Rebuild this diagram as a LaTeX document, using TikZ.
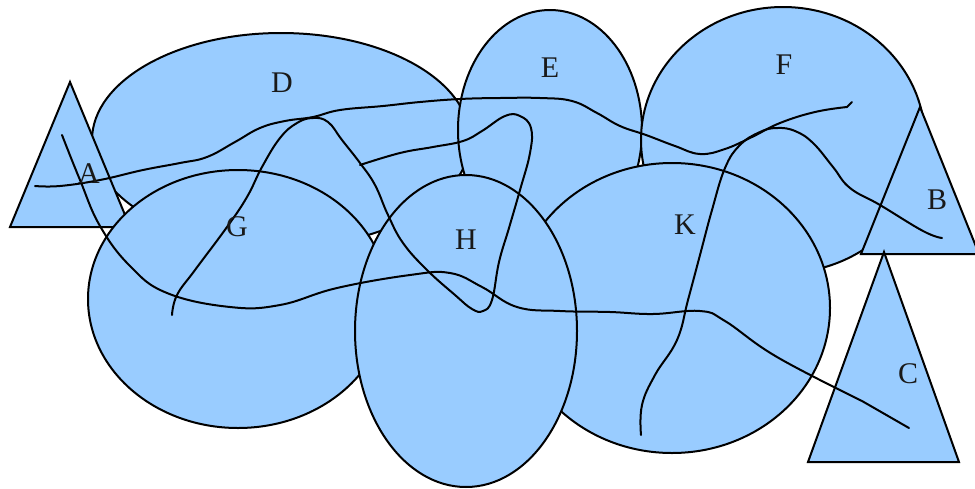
\documentclass[tikz,border=0pt]{standalone}
\usepackage{fontspec}
\setmainfont{Liberation Serif}
\definecolor{setblue}{HTML}{99CCFF}
\tikzset{
  region/.style={fill=setblue, draw=black, line width=2pt},
  tri/.style={region, line join=miter},
  path line/.style={draw=black, line width=2pt, line cap=round, line join=round},
  lbl/.style={font=\fontsize{30}{30}\selectfont, inner sep=0pt, text=black!90}
}
\begin{document}
\begin{tikzpicture}[x=1pt, y=-1pt]
  \useasboundingbox (0,0) rectangle (975,488);

  % regions, back to front
  \path[region] (281,140) ellipse [x radius=189pt, y radius=107pt];   % D
  \path[region] (550,130) ellipse [x radius=92pt, y radius=120pt];    % E
  \path[region] (783,140) ellipse [x radius=142pt, y radius=133pt];   % F
  \path[tri] (70,82) -- (10,227) -- (130,227) -- cycle;                % A
  \path[tri] (920,107) -- (861,254) -- (979,254) -- cycle;             % B
  \path[tri] (884,252) -- (808,462) -- (959,462) -- cycle;             % C
  \path[region] (238,299) ellipse [x radius=150pt, y radius=129pt];   % G
  \path[region] (672,308) ellipse [x radius=158pt, y radius=145pt];   % K
  \path[region] (466,331) ellipse [x radius=111pt, y radius=156pt];   % H

  % free-hand paths
  \draw[path line] plot[smooth, tension=0.7] coordinates {
    (35,186) (60,186) (100,180) (143,170) (180,163) (207,157) (235,142)
    (260,128) (285,121) (313,117) (340,110) (383,106) (420,102) (460,99)
    (500,98) (540,98) (572,101) (597,113) (620,126) (646,135) (675,146)
    (700,154) (725,149) (752,137) (780,123) (815,112) (847,107)} -- (852,102);

  \draw[path line] plot[smooth, tension=0.7] coordinates {
    (62,135) (80,180) (100,226) (130,266) (167,293) (230,307) (280,305)
    (337,288) (410,275) (450,273) (482,287) (517,307) (560,311) (610,312)
    (653,314) (700,311) (725,321) (777,357) (862,401)} -- (909,428);

  \draw[path line] plot[smooth, tension=0.7] coordinates {
    (172,315) (177,295) (195,270) (227,227) (247,197) (262,167) (280,138)
    (297,123) (313,118) (328,122) (342,140) (360,163) (375,185) (388,215)
    (403,243) (427,270) (455,295) (472,309) (483,311) (492,300) (499,262)
    (509,228) (520,190) (530,153) (531,128) (520,116) (505,116) (482,131)
    (463,141) (433,147) (400,153) (360,165)};

  \draw[path line] plot[smooth, tension=0.7] coordinates {
    (641,435) (642,405) (655,375) (677,340) (688,300) (700,255) (712,210)
    (725,168) (740,145) (760,132) (777,128) (795,131) (813,143) (833,167)
    (850,188) (880,205) (923,231) (942,238)};

  % labels
  \node[lbl] (labA) at (89,174) {A};
  \node[lbl] (labB) at (937,200) {B};
  \node[lbl] (labC) at (908,374) {C};
  \node[lbl] (labD) at (282,83) {D};
  \node[lbl] (labE) at (550,68) {E};
  \node[lbl] (labF) at (784,65) {F};
  \node[lbl] (labG) at (237,227) {G};
  \node[lbl] (labH) at (466,240) {H};
  \node[lbl] (labK) at (685,225) {K};
\end{tikzpicture}
\end{document}
